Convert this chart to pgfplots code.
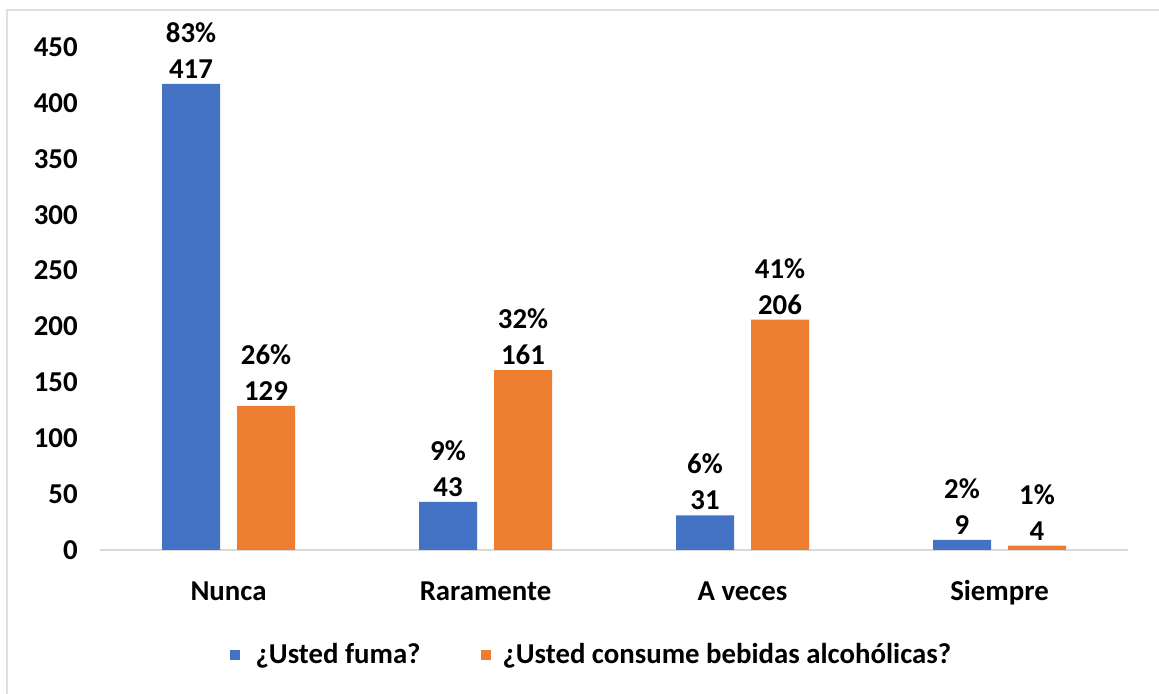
\documentclass[border=0pt]{standalone}
\usepackage{pgfplots}
\pgfplotsset{compat=1.18}
\usepackage{pgfplotstable}
\usepackage{fontspec}
\setmainfont{Carlito}
\definecolor{cblue}{HTML}{4472C4}
\definecolor{corange}{HTML}{ED7D31}
\newcommand\lab{\fontsize{14.4pt}{18pt}\selectfont\bfseries}
\pgfplotstableread{
x y pct
0 417 83
1 43 9
2 31 6
3 9 2
}\fuma
\pgfplotstableread{
x y pct
0 129 26
1 161 32
2 206 41
3 4 1
}\alcohol
\begin{document}
\begin{tikzpicture}
\useasboundingbox (0,0) rectangle (579.5pt,347pt);
\fill[white] (0,0) rectangle (579.5pt,347pt);
\draw[black!12, line width=1.2pt] (3.5pt,0) -- (3.5pt,342pt) -- (579.5pt,342pt);
\begin{axis}[
  at={(50pt,72pt)}, anchor=south west,
  scale only axis, width=514pt, height=251.5pt,
  xmin=-0.5, xmax=3.5, ymin=0, ymax=450,
  ybar=8.5pt, bar width=29pt,
  axis x line*=bottom, axis y line*=left,
  x axis line style={black!15, line width=1pt},
  y axis line style={draw=none},
  major tick length=0pt,
  xtick={0,1,2,3},
  xticklabels={Nunca,Raramente,A veces,Siempre},
  ytick={0,50,...,450},
  /pgf/number format/assume math mode=true,
  ticklabel style={font=\lab},
  yticklabel style={anchor=east, inner sep=0pt, xshift=-11pt},
  xticklabel style={anchor=base, inner sep=0pt, yshift=-25.5pt},
  nodes near coords={\pgfmathprintnumber{\pct}\%\\\pgfmathprintnumber{\pgfplotspointmeta}},
  point meta=y,
  visualization depends on={\thisrow{pct} \as \pct},
  every node near coord/.append style={font=\lab, align=center, anchor=south, inner sep=0pt, yshift=2.5pt, text=black},
  legend style={at={(0.477,-0.2087)}, anchor=center, draw=none, fill=none,
    legend columns=2, font=\lab,
    /tikz/every even column/.append style={column sep=30pt},
    nodes={inner sep=0pt}},
  legend image code/.code={\fill[#1] (0pt,-2.5pt) rectangle (5pt,2.5pt);},
  legend cell align=left,
  clip=false,
]
\addplot[fill=cblue, draw=none] table[x=x,y=y] {\fuma};
\addplot[fill=corange, draw=none] table[x=x,y=y] {\alcohol};
\legend{\hspace{8pt}¿Usted fuma?, \hspace{6pt}¿Usted consume bebidas alcohólicas?}
\end{axis}
\end{tikzpicture}
\end{document}
